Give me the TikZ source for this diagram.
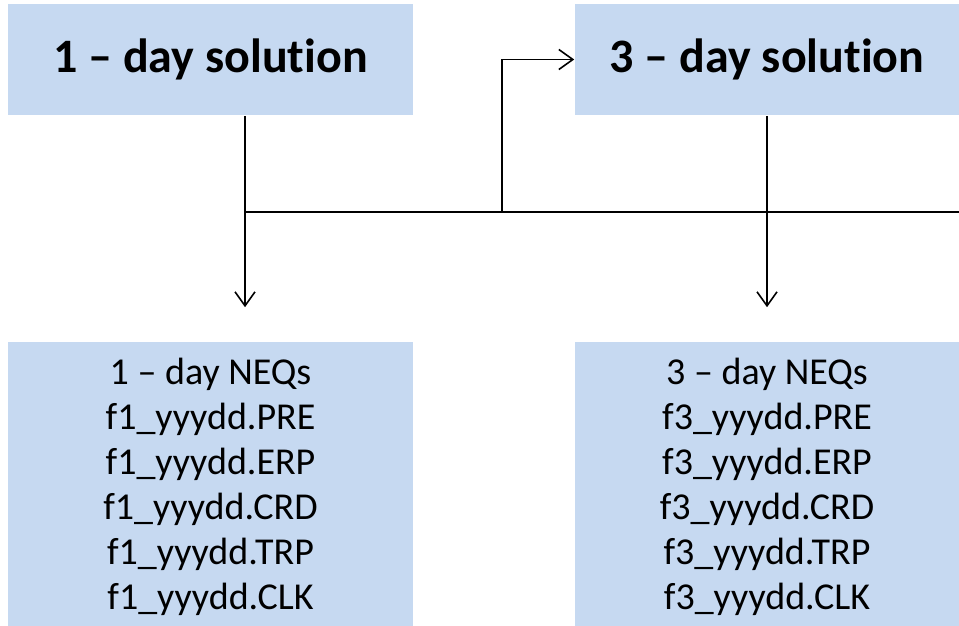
\documentclass[tikz,border=0pt]{standalone}
\usepackage{fontspec}
\setmainfont{Carlito}[Ligatures={TeX,NoCommon}]
\usetikzlibrary{arrows.meta, positioning}

\definecolor{boxblue}{RGB}{198,217,241}

\begin{document}
\begin{tikzpicture}
  [
    x = 1pt, y = -1pt, line width = 1.6pt,
    > = {Straight Barb[length=14pt, width=20pt]},
    every node/.style = {fill = boxblue, inner sep = 0pt, align = center},
    solbox/.style = {minimum height = 111pt, font = \fontsize{48}{56}\selectfont\bfseries},
    neqbox/.style = {minimum height = 290pt, font = \fontsize{38}{45}\selectfont}
  ]
  \useasboundingbox (0,0) rectangle (959,626);
  \node [solbox, minimum width = 405pt] (Sol1) at (210.5,59.5) {1 – day solution};
  \node [solbox, minimum width = 384pt] (Sol3) at (767,59.5)   {3 – day solution};
  \node [neqbox, minimum width = 405pt] (Neq1) at (210.5,487)
    {1 – day NEQs\\ f1\_yyydd.PRE\\ f1\_yyydd.ERP\\ f1\_yyydd.CRD\\ f1\_yyydd.TRP\\ f1\_yyydd.CLK};
  \node [neqbox, minimum width = 384pt] (Neq3) at (767,487)
    {3 – day NEQs\\ f3\_yyydd.PRE\\ f3\_yyydd.ERP\\ f3\_yyydd.CRD\\ f3\_yyydd.TRP\\ f3\_yyydd.CLK};
  % junctions on the common line
  \coordinate (J1) at (245,212);
  \coordinate (J2) at (502,212);
  \coordinate (E)  at (959,212);
  \draw [->, shorten >= 34pt] (Sol1.south -| J1) -- (Neq1.north -| J1);
  \draw (J1) -- (E);
  \draw [->] (J2) |- (Sol3.west);
  \draw [->, shorten >= 34pt] (Sol3.south) -- (Neq3.north);
\end{tikzpicture}
\end{document}
